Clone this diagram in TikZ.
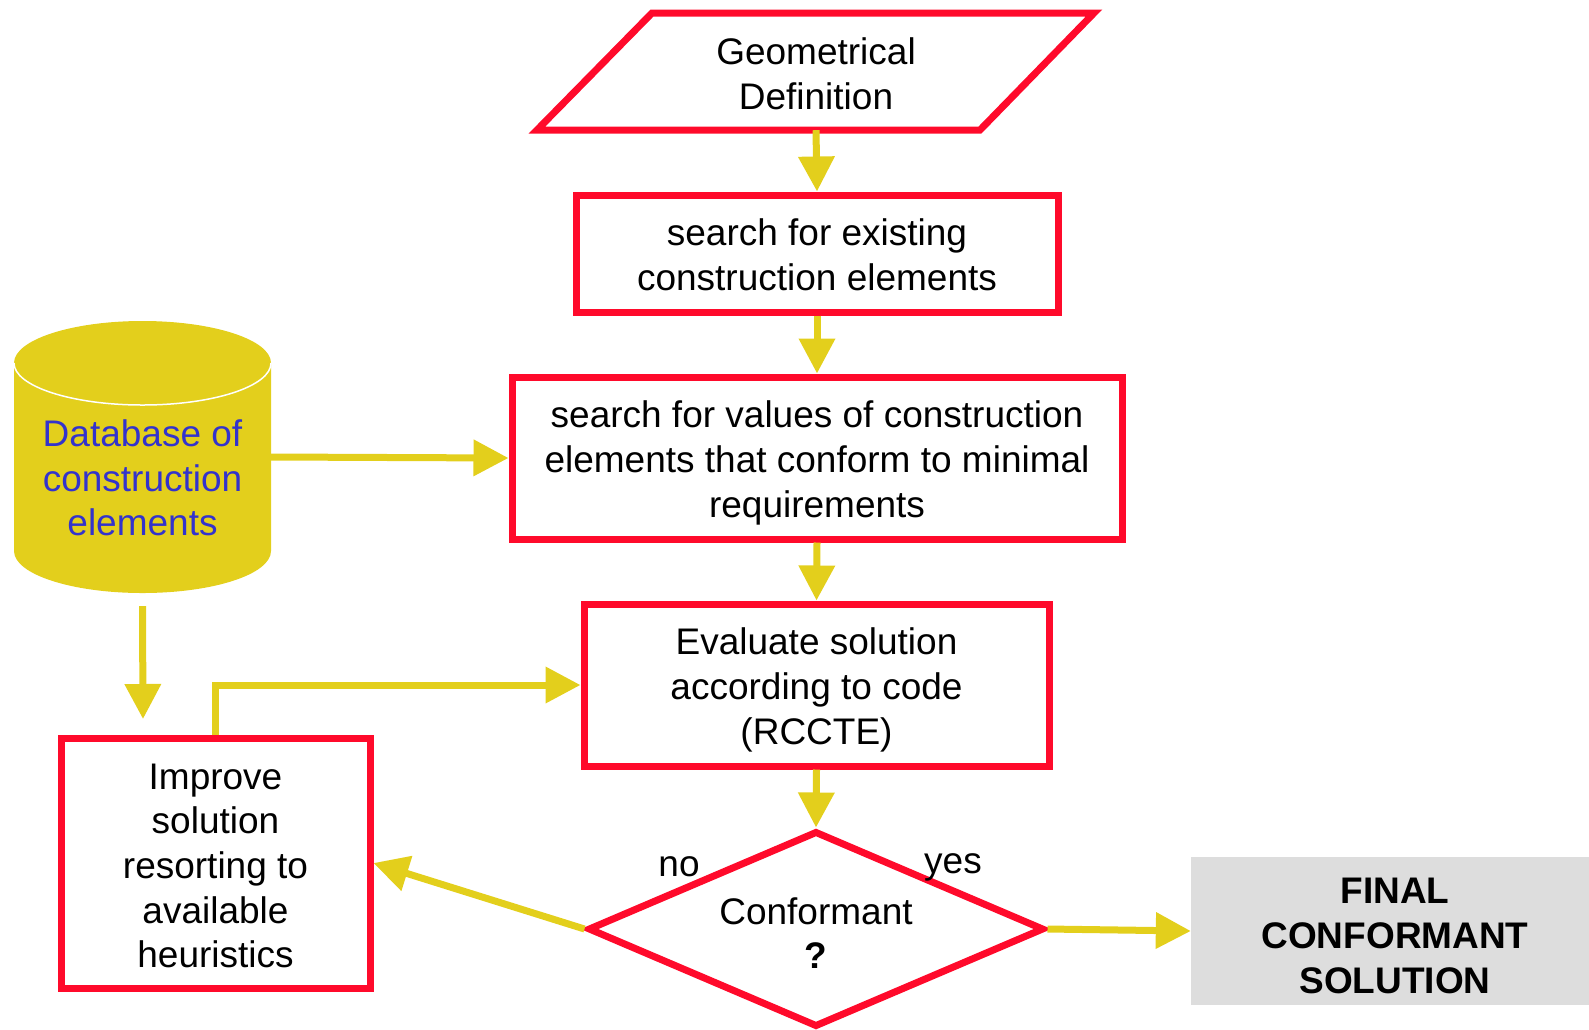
\documentclass[tikz,border=0pt]{standalone}
\usepackage{fontspec}
\setmainfont{Liberation Sans}
\usetikzlibrary{arrows.meta,shapes.geometric,calc}
\definecolor{rd}{HTML}{FF0A2B}
\definecolor{yl}{HTML}{E3CF1C}
\definecolor{bl}{HTML}{3333CC}
\definecolor{gr}{HTML}{DDDDDD}
\begin{document}
\begin{tikzpicture}[x=1pt,y=-1pt,
  txt/.style={inner sep=0pt,align=center,font=\fontsize{37}{44.6}\selectfont},
  box/.style={draw=rd,line width=7pt,rectangle,inner sep=0pt},
  arr/.style={draw=yl,color=yl,line width=7pt,-{Triangle[length=35pt,width=35pt]}}]
\useasboundingbox (0,0) rectangle (1589,1029);
% parallelogram
\draw[rd,line width=7pt,line join=miter] (652,13) -- (1094,13) -- (980,130) -- (537,130) -- cycle;
\node[inner sep=0pt,minimum width=330pt,minimum height=117pt] (geo) at (816,71.5) {};
\node[txt] (geot) at (816,74) {Geometrical\\Definition};
% boxes
\node[box,minimum width=482pt,minimum height=117pt] (s1) at (817,253.5) {};
\node[txt] (s1t) at (817,255) {search for existing\\construction elements};
\node[box,minimum width=610pt,minimum height=162pt] (s2) at (817,458) {};
\node[txt] (s2t) at (817,463) {search for values of construction\\elements that conform to minimal\\requirements};
\node[box,minimum width=465pt,minimum height=162pt] (ev) at (816.5,685) {};
\node[txt] (evt) at (816.5,690) {Evaluate solution\\according to code\\(RCCTE)};
\node[box,minimum width=309pt,minimum height=250pt] (imp) at (215.5,863) {};
\node[txt] (impt) at (215.5,866) {Improve\\solution\\resorting to\\available\\heuristics};
% diamond
\node[diamond,draw=rd,line width=7pt,minimum width=456pt,minimum height=196pt,inner sep=0pt] (dia) at (816,929) {};
\node[txt] (conf) at (816,933) {Conformant\\\textbf{?}};
\node[txt] (no) at (679,867) {no};
\node[txt] (yes) at (953,867) {yes};
% final
\node[fill=gr,inner sep=0pt,minimum width=398pt,minimum height=148pt] (fin) at (1390,931) {};
\node[txt,font=\fontsize{37}{44.6}\selectfont\bfseries] (fint) at (1395,936) {FINAL\\CONFORMANT\\SOLUTION};
% cylinder
\fill[yl] (14,363) -- (14,551) arc[start angle=180,end angle=0,x radius=128.5,y radius=42] -- (271,363) arc[start angle=0,end angle=-180,x radius=128.5,y radius=42] -- cycle;
\draw[white,line width=1.5pt] (14,363) arc[start angle=180,end angle=0,x radius=128.5,y radius=42];
\node[inner sep=0pt,minimum width=257pt,minimum height=272pt] (db) at (142.5,457) {};
\node[txt,text=bl] (dbt) at (142.5,478) {Database of\\construction\\elements};
\coordinate (dbend) at (143,719);
% connectors
\draw[arr] (geo.south) -- (s1.north);
\draw[arr] (s1.south) -- (s2.north);
\draw[arr] (s2.south) -- (ev.north);
\draw[arr] (ev.south) -- (dia.north);
\draw[arr] (db.east) -- (s2.west);
\draw[arr] ($(db.south)+(0,13)$) -- (dbend);
\draw[arr] (imp.north) |- (ev.west);
\draw[arr] (dia.west) -- (imp.east);
\draw[arr] (dia.east) -- (fin.west);
\end{tikzpicture}
\end{document}
